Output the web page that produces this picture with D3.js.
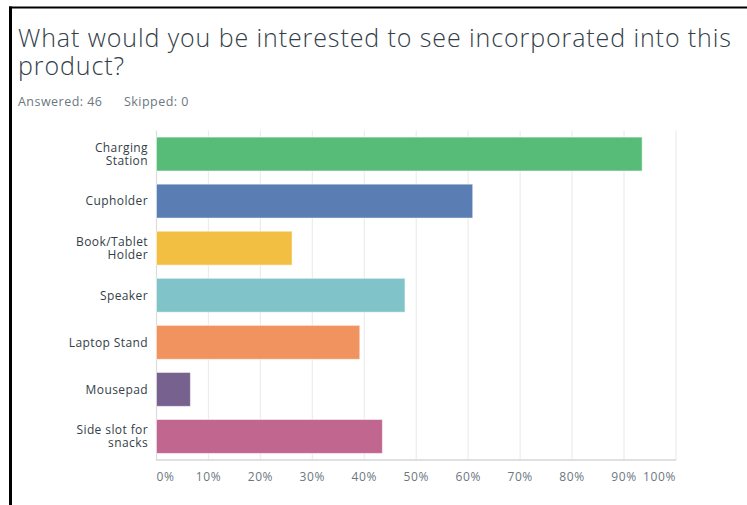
<!DOCTYPE html>
<html>
<head>
<meta charset="utf-8">
<script src="https://cdn.jsdelivr.net/npm/d3@7"></script>
<style>
  html, body { margin: 0; padding: 0; background: #fff; }
  svg { display: block; }
</style>
</head>
<body>
<svg id="chart" width="747" height="505"></svg>
<script>
// Survey question results (46 answered)
const titleLines = ["What would you be interested to see incorporated into this", "product?"];
const answeredText = "Answered: 46";
const skippedText = "Skipped: 0";

const categories = ["Charging Station", "Cupholder", "Book/Tablet Holder", "Speaker", "Laptop Stand", "Mousepad", "Side slot for snacks"];
const categoryLines = [["Charging", "Station"], ["Cupholder"], ["Book/Tablet", "Holder"], ["Speaker"], ["Laptop Stand"], ["Mousepad"], ["Side slot for", "snacks"]];
const values = [93.48, 60.87, 26.09, 47.83, 39.13, 6.52, 43.48];
const colors = ["#57bc77", "#5a7db4", "#f2bf42", "#80c4ca", "#f1935e", "#77618f", "#c0668f"];
const ticks = [0, 10, 20, 30, 40, 50, 60, 70, 80, 90, 100];

const svg = d3.select("#chart");
const font = "'Open Sans', 'Noto Sans', sans-serif";

// frame edges
svg.append("line").attr("x1", 10.5).attr("x2", 10.5).attr("y1", 6.5).attr("y2", 505)
  .attr("stroke", "#000").attr("stroke-width", 3);
svg.append("line").attr("x1", 9).attr("x2", 747).attr("y1", 7.5).attr("y2", 7.5)
  .attr("stroke", "#000").attr("stroke-width", 2);

// spreads a text's letters so it spans the given width
function fitSpacing(sel, width) {
  const n = sel.text().length;
  const w = sel.node().getComputedTextLength();
  const ls = (width - w) / (n - 1);
  sel.attr("letter-spacing", ls);
  return ls;
}

// title
const titleSize = 25;
const t1 = svg.append("text").attr("x", 18).attr("y", 47)
  .attr("font-family", font).attr("font-weight", 300).attr("font-size", titleSize)
  .attr("fill", "#333e48").text(titleLines[0]);
const titleLs = fitSpacing(t1, 713);
svg.append("text").attr("x", 18).attr("y", 75)
  .attr("font-family", font).attr("font-weight", 300).attr("font-size", titleSize)
  .attr("letter-spacing", titleLs)
  .attr("fill", "#333e48").text(titleLines[1]);

const metaSize = 12.5;
const ans = svg.append("text").attr("x", 18).attr("y", 106)
  .attr("font-family", font).attr("font-size", metaSize).attr("fill", "#6b787f").text(answeredText);
const metaLs = fitSpacing(ans, 84);
svg.append("text").attr("x", 124).attr("y", 106)
  .attr("font-family", font).attr("font-size", metaSize).attr("letter-spacing", metaLs)
  .attr("fill", "#6b787f").text(skippedText);

// scales
const x = d3.scaleLinear().domain([0, 100]).range([156.5, 676]);
const y = d3.scaleBand().domain(categories).range([130.5, 460]).paddingInner(0.28).paddingOuter(0.14);

// gridlines
svg.append("g").selectAll("line").data(ticks.slice(1)).join("line")
  .attr("x1", d => x(d)).attr("x2", d => x(d))
  .attr("y1", 130.5).attr("y2", 460)
  .attr("stroke", "#ececec").attr("stroke-width", 1.2);

// left axis line
svg.append("line").attr("x1", x(0)).attr("x2", x(0)).attr("y1", 130.5).attr("y2", 460)
  .attr("stroke", "#dcdcdc").attr("stroke-width", 1.2);

// bars
svg.append("g").selectAll("rect").data(categories).join("rect")
  .attr("x", x(0))
  .attr("y", d => y(d))
  .attr("width", (d, i) => x(values[i]) - x(0))
  .attr("height", y.bandwidth())
  .attr("fill", (d, i) => colors[i])
  .attr("stroke", "rgba(255,255,255,0.5)")
  .attr("stroke-width", 1);

// bottom axis line
svg.append("line").attr("x1", x(0) - 0.5).attr("x2", x(100)).attr("y1", 460).attr("y2", 460)
  .attr("stroke", "#d6d6d6").attr("stroke-width", 1.5);

// tick labels
svg.append("g").selectAll("text").data(ticks).join("text")
  .attr("x", d => x(d))
  .attr("y", 481)
  .attr("text-anchor", d => d === 0 ? "start" : d === 100 ? "end" : "middle")
  .attr("font-family", font).attr("font-size", 12).attr("letter-spacing", 0.6)
  .attr("fill", "#6b787f")
  .text(d => d + "%");

// category labels
const lab = svg.append("g").selectAll("text").data(categories).join("text")
  .attr("text-anchor", "end")
  .attr("font-family", font).attr("font-size", 12).attr("letter-spacing", 0.4)
  .attr("fill", "#333e48");
lab.each(function(d, i) {
  const lines = categoryLines[i];
  const cy = y(d) + y.bandwidth() / 2;
  d3.select(this).selectAll("tspan").data(lines).join("tspan")
    .attr("x", 148)
    .attr("y", (l, j) => cy + 4.3 + (j - (lines.length - 1) / 2) * 13)
    .text(l => l);
});
</script>
</body>
</html>
